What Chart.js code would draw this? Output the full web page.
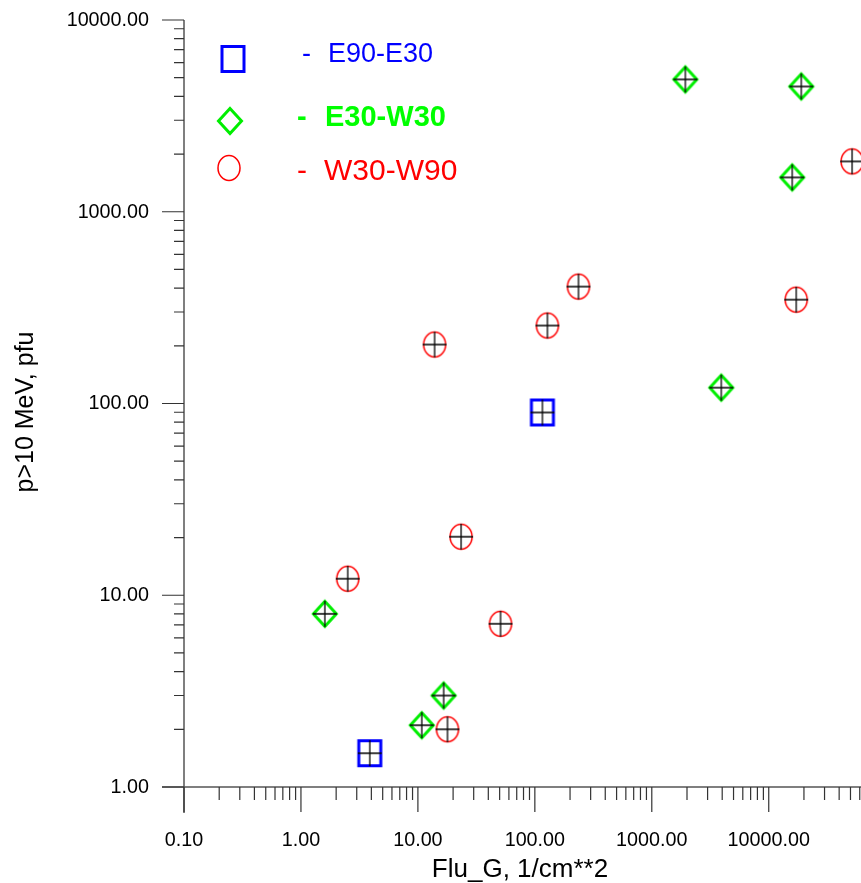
<!DOCTYPE html>
<html>
<head>
<meta charset="utf-8">
<title>p>10 MeV vs Flu_G</title>
<script src="https://cdn.jsdelivr.net/npm/chart.js@4.4.1/dist/chart.umd.min.js"></script>
<style>
    html, body { margin: 0; padding: 0; background: #fff; }
    #wrap { width: 861px; height: 883px; }
</style>
</head>
<body>
<div id="wrap"><canvas id="fluChart" width="861" height="883"></canvas></div>
<script>
// data
const seriesNames = ['E90-E30', 'E30-W30', 'W30-W90'];
const e90Flu = [3.88, 116];
const e90Pfu = [1.5, 89.8];
const e30Flu = [1.60, 10.8, 16.6, 1936, 18970, 15880, 3930];
const e30Pfu = [8.0, 2.1, 3.0, 4900, 4500, 1510, 121];
const w30Flu = [2.51, 13.9, 23.4, 17.9, 50.9, 128, 236, 17180, 51600];
const w30Pfu = [12.2, 203, 20.2, 2.0, 7.1, 255, 407, 348, 1830];

const xTickValues = [0.1, 1, 10, 100, 1000, 10000];
const xTickLabels = ['0.10', '1.00', '10.00', '100.00', '1000.00', '10000.00'];
const yTickValues = [1, 10, 100, 1000, 10000];
const yTickLabels = ['1.00', '10.00', '100.00', '1000.00', '10000.00'];
const xMin = 0.1, xMax = 61500;
const yMin = 1, yMax = 10000;

const FONT = "'Liberation Sans', Arial, sans-serif";

function toPoints(xs, ys) {
    return xs.map((x, i) => ({ x: x, y: ys[i] }));
}

// marker images: shape + black crosshair
function makeMarker(kind, color, withCross) {
    const c = document.createElement('canvas');
    c.width = 30; c.height = 32;
    const g = c.getContext('2d');
    const cx = 15, cy = 16;
    g.strokeStyle = color;
    if (kind === 'square') {
        g.lineWidth = 3;
        g.strokeRect(cx - 11, cy - 12.5, 22, 25);
    } else if (kind === 'diamond') {
        g.lineWidth = 3;
        g.beginPath();
        g.moveTo(cx, cy - 12.5);
        g.lineTo(cx + 11.5, cy);
        g.lineTo(cx, cy + 12.5);
        g.lineTo(cx - 11.5, cy);
        g.closePath();
        g.stroke();
    } else {
        g.lineWidth = 1.5;
        g.beginPath();
        g.ellipse(cx, cy, 11, 12.5, 0, 0, Math.PI * 2);
        g.stroke();
    }
    if (withCross) {
        g.strokeStyle = '#000';
        g.lineWidth = 1.3;
        g.beginPath();
        g.moveTo(cx - 12, cy); g.lineTo(cx + 12, cy);
        g.moveTo(cx, cy - 13); g.lineTo(cx, cy + 13);
        g.stroke();
    }
    return c;
}

const blue = '#0000ff', green = '#00ee00', red = '#ff0000';

// squeezed text, like the original's narrow font
function squeezedText(ctx, text, x, y, sx) {
    ctx.save();
    ctx.translate(x, y);
    ctx.scale(sx, 1);
    ctx.fillText(text, 0, 0);
    ctx.restore();
}

// axes, ticks and titles drawn from the scales
const axesPlugin = {
    id: 'axesPlugin',
    beforeDatasetsDraw(chart) {
        const ctx = chart.ctx;
        const xs = chart.scales.x, ys = chart.scales.y;
        const area = chart.chartArea;
        const x0 = xs.getPixelForValue(xMin);
        const y0 = ys.getPixelForValue(yMin);
        ctx.save();
        ctx.strokeStyle = '#555';
        ctx.lineWidth = 1.5;
        ctx.beginPath();
        ctx.moveTo(x0, area.top);
        ctx.lineTo(x0, y0 + 26);
        ctx.moveTo(x0 - 22, y0);
        ctx.lineTo(area.right, y0);
        ctx.stroke();

        ctx.lineWidth = 1.2;
        ctx.strokeStyle = '#333';
        ctx.beginPath();
        // y ticks
        for (let k = 0; k < 4; k++) {
            const base = Math.pow(10, k);
            for (let m = 2; m <= 9; m++) {
                const py = ys.getPixelForValue(base * m);
                ctx.moveTo(x0 - 10, py); ctx.lineTo(x0, py);
            }
        }
        yTickValues.forEach(v => {
            const py = ys.getPixelForValue(v);
            ctx.moveTo(x0 - 22, py); ctx.lineTo(x0, py);
        });
        // x ticks
        for (let k = -1; k < 5; k++) {
            const base = Math.pow(10, k);
            for (let m = 2; m <= 9; m++) {
                if (base * m > xMax) break;
                const px = xs.getPixelForValue(base * m);
                ctx.moveTo(px, y0); ctx.lineTo(px, y0 + 13);
            }
        }
        xTickValues.forEach(v => {
            const px = xs.getPixelForValue(v);
            ctx.moveTo(px, y0); ctx.lineTo(px, y0 + 25);
        });
        ctx.stroke();

        ctx.fillStyle = '#000';
        ctx.font = '21px ' + FONT;
        ctx.textAlign = 'right';
        ctx.textBaseline = 'middle';
        yTickValues.forEach((v, i) => {
            squeezedText(ctx, yTickLabels[i], x0 - 35, ys.getPixelForValue(v), 0.94);
        });
        ctx.textAlign = 'center';
        xTickValues.forEach((v, i) => {
            squeezedText(ctx, xTickLabels[i], xs.getPixelForValue(v), y0 + 53, 0.94);
        });

        // axis titles
        ctx.font = '26px ' + FONT;
        ctx.textBaseline = 'alphabetic';
        ctx.fillText('Flu_G, 1/cm**2', 520, 877);
        ctx.save();
        ctx.translate(33, 412);
        ctx.rotate(-Math.PI / 2);
        ctx.font = '25px ' + FONT;
        ctx.fillText('p>10 MeV, pfu', 0, 0);
        ctx.restore();
        ctx.restore();
    },
    afterDraw(chart) {
        // legend
        const ctx = chart.ctx;
        ctx.save();
        ctx.drawImage(makeMarker('square', blue, false), 233 - 15, 59 - 16);
        ctx.drawImage(makeMarker('diamond', green, false), 230 - 15, 121 - 16);
        ctx.drawImage(makeMarker('circle', red, false), 229 - 15, 168 - 16);
        ctx.textAlign = 'left';
        ctx.textBaseline = 'middle';

        ctx.fillStyle = blue;
        ctx.font = '27px ' + FONT;
        ctx.fillText('-', 302, 55);
        ctx.fillText(seriesNames[0], 328, 55);

        ctx.fillStyle = '#00ff00';
        ctx.font = 'bold 29px ' + FONT;
        ctx.fillText('-', 297, 118);
        ctx.fillText(seriesNames[1], 325, 118);

        ctx.fillStyle = red;
        ctx.font = '30px ' + FONT;
        ctx.fillText('-', 297, 172);
        ctx.fillText(seriesNames[2], 324, 172);
        ctx.restore();
    }
};

const ctx = document.getElementById('fluChart').getContext('2d');
const fluChart = new Chart(ctx, {
    type: 'scatter',
    data: {
        datasets: [
            {
                label: seriesNames[0],
                data: toPoints(e90Flu, e90Pfu),
                pointStyle: makeMarker('square', blue, true),
                clip: false
            },
            {
                label: seriesNames[1],
                data: toPoints(e30Flu, e30Pfu),
                pointStyle: makeMarker('diamond', green, true),
                clip: false
            },
            {
                label: seriesNames[2],
                data: toPoints(w30Flu, w30Pfu),
                pointStyle: makeMarker('circle', red, true),
                clip: false
            }
        ]
    },
    options: {
        responsive: false,
        devicePixelRatio: 1,
        animation: false,
        events: [],
        layout: {
            autoPadding: false,
            padding: { left: 184, right: 0, top: 20, bottom: 96 }
        },
        plugins: {
            legend: { display: false },
            tooltip: { enabled: false }
        },
        scales: {
            x: { type: 'logarithmic', min: xMin, max: xMax, display: false },
            y: { type: 'logarithmic', min: yMin, max: yMax, display: false }
        }
    },
    plugins: [axesPlugin]
});
</script>
</body>
</html>
